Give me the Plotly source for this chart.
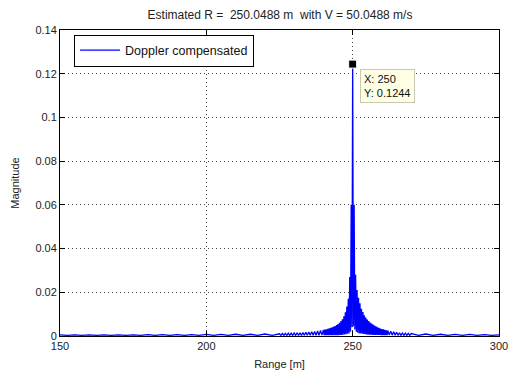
import plotly.graph_objects as go

# ---- data ----
range_m = [
    150, 152.5, 155, 157.5, 160, 162.5, 165, 167.5, 170, 172.5, 175, 177.5, 180, 182.5,
    185, 187.5, 190, 192.5, 195, 197.5, 200, 202.5, 205, 207.5, 210, 212.5, 215, 217.5,
    220, 222.5, 225,
    225.5, 226, 226.5, 227, 227.5, 228, 228.5, 229, 229.5, 230, 230.5, 231, 231.5, 232,
    232.5, 233, 233.5, 234, 234.5, 235, 235.5, 236, 236.5, 237, 237.5, 238, 238.5, 239,
    239.5,
    240, 240.25, 240.5, 240.75, 241, 241.25, 241.5, 241.75, 242, 242.25, 242.5, 242.75,
    243, 243.25, 243.5, 243.75, 244, 244.25, 244.5, 244.75, 245,
    245.25, 245.5, 245.75, 246, 246.25, 246.5, 246.75, 247, 247.25, 247.5, 247.75, 248,
    248.25, 248.5, 248.75, 249, 249.25, 249.5, 249.75, 250, 250.25, 250.5, 250.75, 251,
    251.25, 251.5, 251.75, 252, 252.25, 252.5, 252.75, 253, 253.25, 253.5, 253.75, 254,
    254.25, 254.5, 254.75,
    255, 255.25, 255.5, 255.75, 256, 256.25, 256.5, 256.75, 257, 257.25, 257.5, 257.75,
    258, 258.25, 258.5, 258.75, 259, 259.25, 259.5, 259.75, 260, 260.25, 260.5, 260.75,
    261, 261.25, 261.5, 261.75, 262,
    262.5, 263, 263.5, 264, 264.5, 265, 265.5, 266, 266.5, 267, 267.5, 268, 268.5,
    269, 269.5, 270,
    272.5, 275, 277.5, 280, 282.5, 285, 287.5, 290, 292.5, 295, 297.5, 300,
]
magnitude = [
    0.0005, 0.0003, 0.0005, 0.0003, 0.0005, 0.0003, 0.0005, 0.0003, 0.0005, 0.0003, 0.0005, 0.0003, 0.0006, 0.0003,
    0.0006, 0.0003, 0.0006, 0.0003, 0.0006, 0.0003, 0.0007, 0.0003, 0.0007, 0.0003, 0.0008, 0.0003, 0.0008, 0.0003,
    0.0009, 0.0003, 0.0010,
    0.0003, 0.0012, 0.0003, 0.0012, 0.0003, 0.0013, 0.0003, 0.0013, 0.0003, 0.0014, 0.0003, 0.0015, 0.0003, 0.0015,
    0.0003, 0.0016, 0.0003, 0.0017, 0.0003, 0.0018, 0.0003, 0.0020, 0.0003, 0.0021, 0.0003, 0.0023, 0.0003, 0.0025,
    0.0004,
    0.0028, 0.0004, 0.0029, 0.0004, 0.0031, 0.0004, 0.0033, 0.0004, 0.0035, 0.0004, 0.0037, 0.0004,
    0.0040, 0.0004, 0.0043, 0.0004, 0.0046, 0.0004, 0.0050, 0.0004, 0.0055,
    0.0004, 0.0060, 0.0005, 0.0068, 0.0005, 0.0077, 0.0006, 0.0090, 0.0007, 0.0108, 0.0008, 0.0135,
    0.0010, 0.0170, 0.0012, 0.0270, 0.0020, 0.0600, 0.0040, 0.1244, 0.0045, 0.0600, 0.0030, 0.0280,
    0.0020, 0.0210, 0.0015, 0.0175, 0.0012, 0.0150, 0.0011, 0.0125, 0.0010, 0.0110, 0.0009, 0.0095,
    0.0008, 0.0085, 0.0007,
    0.0075, 0.0006, 0.0068, 0.0006, 0.0062, 0.0006, 0.0057, 0.0005, 0.0052, 0.0005, 0.0048, 0.0005,
    0.0044, 0.0005, 0.0040, 0.0005, 0.0037, 0.0005, 0.0034, 0.0004, 0.0032, 0.0004, 0.0030, 0.0004,
    0.0028, 0.0004, 0.0026, 0.0004, 0.0025,
    0.0004, 0.0022, 0.0004, 0.0019, 0.0004, 0.0017, 0.0003, 0.0015, 0.0003, 0.0014, 0.0003, 0.0013, 0.0003,
    0.0012, 0.0003, 0.0011,
    0.0003, 0.0009, 0.0003, 0.0008, 0.0003, 0.0007, 0.0003, 0.0007, 0.0003, 0.0006, 0.0003, 0.0005,
]
tip_x = [250]
tip_y = [0.1244]

x_ticks = [150, 200, 250, 300]
x_labels = ["150", "200", "250", "300"]
y_ticks = [0, 0.02, 0.04, 0.06, 0.08, 0.1, 0.12, 0.14]
y_labels = ["0", "0.02", "0.04", "0.06", "0.08", "0.1", "0.12", "0.14"]

FONT = "Liberation Sans, Arial, sans-serif"
NB = "\u00a0"

fig = go.Figure()
fig.add_trace(go.Scatter(
    x=range_m, y=magnitude, mode="lines", name="Doppler compensated",
    line=dict(color="#0000FF", width=1.3),
))
fig.add_trace(go.Scatter(
    x=tip_x, y=tip_y, mode="markers", showlegend=False,
    marker=dict(symbol="square", size=8, color="black", line=dict(color="white", width=1)),
))

fig.add_annotation(
    x=tip_x[0], y=tip_y[0], xref="x", yref="y",
    text=f"X: {tip_x[0]}<br>Y: {tip_y[0]}",
    showarrow=False, align="left",
    xanchor="left", yanchor="top", xshift=7, yshift=-5,
    bgcolor="#FFFFE6", bordercolor="#C8C8B4", borderwidth=1, borderpad=3,
    font=dict(family=FONT, size=11, color="#111"),
)

axis_common = dict(
    showline=True, linecolor="black", linewidth=1, mirror="ticks",
    ticks="inside", ticklen=5, tickcolor="black",
    showgrid=True, gridcolor="#444", gridwidth=1, griddash="1px,3px",
    zeroline=False, tickfont=dict(family=FONT, size=11, color="#222"),
    automargin=False,
)

fig.update_layout(
    width=510, height=373,
    margin=dict(l=60, r=11, t=30, b=37),
    paper_bgcolor="white", plot_bgcolor="white",
    title=dict(
        text=f"Estimated R = {NB}250.0488 m {NB}with V = 50.0488 m/s",
        x=0.549, xanchor="center", y=1 - 15 / 373, yanchor="middle",
        font=dict(family=FONT, size=12, color="#222"),
    ),
    xaxis=dict(
        range=[150, 300], tickvals=x_ticks, ticktext=x_labels,
        title=dict(text="Range [m]", font=dict(family=FONT, size=11, color="#222"), standoff=9),
        **axis_common,
    ),
    yaxis=dict(
        range=[0, 0.14], tickvals=y_ticks, ticktext=y_labels,
        title=dict(text="Magnitude", font=dict(family=FONT, size=11, color="#222"), standoff=13),
        **axis_common,
    ),
    legend=dict(
        x=0.032, y=0.985, xanchor="left", yanchor="top",
        bgcolor="white", bordercolor="black", borderwidth=1,
        font=dict(family=FONT, size=12.5, color="#111"),
        tracegroupgap=0, itemwidth=40,
    ),
    showlegend=True,
)

fig.write_html("out.html")
